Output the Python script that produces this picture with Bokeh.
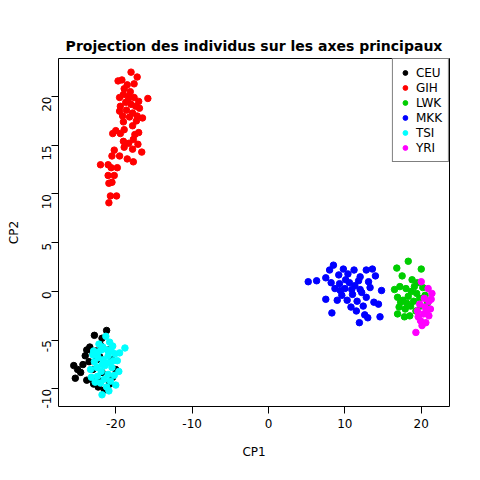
from math import pi
from bokeh.plotting import figure
from bokeh.models import Range1d, Legend, LegendItem, CustomJSTickFormatter
from bokeh.embed import file_html
from bokeh.resources import INLINE

groups = ["CEU", "GIH", "LWK", "MKK", "TSI", "YRI"]
colors = ["black", "red", "#00CD00", "blue", "cyan", "magenta"]

ceu_x = [-25.5, -25.0, -24.6, -25.3, -24.3, -23.8, -23.0, -22.8, -21.2, -23.5, -23.2, -22.9, -22.3, -21.5, -20.8,
         -20.0, -21.0, -22.0, -23.0, -22.5, -20.5, -23.8, -22.0, -21.8, -22.6, -21.8, -20.4, -24.0, -23.4, -22.1]
ceu_y = [-7.6, -8.0, -8.3, -8.9, -7.5, -6.0, -6.3, -4.5, -4.0, -7.2, -9.0, -9.5, -9.8, -10.1, -9.5,
         -8.0, -6.0, -5.5, -8.0, -7.0, -7.0, -9.1, -9.2, -8.3, -6.1, -4.8, -8.8, -6.6, -5.7, -6.7]

gih_x = [-18.0, -17.2, -19.2, -19.7, -18.5, -18.9, -18.1, -19.0, -18.3, -17.6, -19.5, -17.0, -18.7, -18.0, -17.4,
         -19.4, -15.8, -16.9, -18.6, -19.5, -17.8, -16.5, -18.2, -17.3, -19.0, -17.8, -18.9, -20.0, -17.0, -17.5,
         -19.4, -20.4, -17.7, -18.3, -19.0, -17.1, -18.9, -20.2, -16.6, -17.8, -19.5, -18.5, -20.5, -17.7, -21.0,
         -22.0, -19.8, -20.6, -20.2, -21.0, -20.5, -20.9, -19.9, -20.7, -20.9, -17.6, -18.4, -17.2, -19.1]
gih_y = [22.5, 22.0, 21.7, 21.6, 21.2, 20.8, 20.5, 20.2, 20.0, 19.9, 19.9, 19.5, 19.4, 19.2, 19.0,
         19.0, 19.8, 18.8, 18.6, 18.5, 18.3, 17.8, 17.9, 17.5, 17.4, 17.0, 16.6, 16.5, 16.3, 16.1,
         16.2, 16.2, 15.6, 15.2, 15.4, 15.1, 14.8, 14.5, 14.3, 14.6, 13.9, 13.6, 13.9, 13.3, 13.0,
         13.0, 12.7, 12.7, 11.9, 11.9, 11.2, 11.1, 9.8, 9.8, 9.1, 21.3, 19.6, 18.0, 18.0]

lwk_x = [16.8, 18.3, 20.0, 17.5, 18.8, 19.5, 16.5, 17.2, 18.0, 18.7, 19.4, 20.2, 16.9, 17.6, 18.3,
         19.0, 19.8, 20.5, 17.1, 17.9, 18.6, 19.3, 16.9, 17.8, 18.5, 20.8, 19.9, 17.3, 18.1, 19.1]
lwk_y = [2.4, 3.1, 2.3, 1.6, 1.2, 0.9, 0.2, 0.5, 0.3, 0.0, -0.2, 0.4, -0.6, -0.9, -0.5,
         -1.0, -0.7, -0.4, -1.6, -1.8, -1.5, -2.0, -2.3, -2.6, -2.5, -1.2, -1.5, -1.1, -1.2, 0.5]

mkk_x = [5.2, 6.3, 7.5, 8.0, 8.5, 9.2, 9.8, 10.4, 11.2, 12.0, 12.8, 13.6, 14.0, 7.5, 8.3,
         8.7, 9.3, 9.6, 10.0, 10.3, 10.6, 11.0, 11.3, 11.6, 12.0, 12.4, 12.8, 13.3, 13.8, 14.4,
         14.6, 12.6, 11.5, 11.9, 13.0, 10.8, 9.0, 10.1, 11.8, 14.8, 9.4, 10.9, 12.2, 8.2, 13.1]
mkk_y = [1.0, 1.1, 1.4, 2.2, 2.7, 1.7, 2.3, 1.8, 2.2, 1.5, 2.2, 2.3, 1.6, -0.8, -2.2,
         0.3, 0.8, -0.4, 0.3, -0.9, 0.9, -0.3, 0.6, -1.0, 0.2, -1.5, -0.6, 0.4, -1.1, -1.3,
         -2.6, -2.4, -2.0, -3.2, -2.7, -1.6, -0.9, 1.2, 1.1, 0.1, 0.1, 0.2, -0.1, 0.9, 1.0]

tsi_x = [-21.3, -20.8, -22.2, -18.8, -21.9, -20.6, -23.0, -21.0, -22.3, -20.1, -19.5, -21.6, -22.8, -20.9, -19.8,
         -21.4, -22.5, -23.3, -20.5, -21.9, -21.0, -22.4, -20.2, -21.5, -22.0, -20.7, -21.2, -20.0, -21.8, -20.9,
         -22.9, -21.7, -20.4, -22.7, -19.6, -23.2, -21.1, -20.3, -21.8, -22.3]
tsi_y = [-4.6, -5.2, -5.4, -5.8, -6.0, -6.1, -6.5, -6.6, -6.8, -6.4, -6.3, -7.0, -7.2, -7.3, -7.1,
         -7.6, -7.8, -8.0, -7.8, -8.2, -8.5, -8.7, -8.6, -9.0, -9.4, -9.2, -9.8, -9.6, -10.6, -10.2,
         -6.1, -5.7, -5.6, -9.3, -8.2, -8.8, -6.0, -7.1, -7.5, -6.2]

yri_x = [20.0, 20.9, 21.4, 20.4, 21.0, 19.8, 20.5, 21.2, 19.5, 20.3, 21.0, 19.9, 20.6, 20.1, 19.3, 21.3, 20.7, 19.6]
yri_y = [1.0, 0.3, -0.2, -0.7, -1.0, -1.3, -1.6, -1.8, -2.0, -2.3, -2.5, -3.0, -3.2, -3.5, -4.2, -0.8, -2.0, -2.6]

data = [(ceu_x, ceu_y), (gih_x, gih_y), (lwk_x, lwk_y), (mkk_x, mkk_y), (tsi_x, tsi_y), (yri_x, yri_y)]

p = figure(width=480, height=480, output_backend="svg", toolbar_location=None,
           title="Projection des individus sur les axes principaux",
           x_range=Range1d(-27.5, 23.7), y_range=Range1d(-11.8, 23.9),
           min_border_left=58, min_border_right=31, min_border_top=58, min_border_bottom=74,
           x_axis_label="CP1", y_axis_label="CP2")
p.title.align = "center"
p.title.text_font = "DejaVu Sans"
p.title.text_font_size = "14px"
p.title.text_font_style = "bold"
p.title.text_color = "black"
p.title.offset = 0
p.grid.visible = False
p.outline_line_color = "black"
p.xaxis.ticker = [-20, -10, 0, 10, 20]
p.yaxis.ticker = [-10, -5, 0, 5, 10, 15, 20]
p.yaxis.major_label_orientation = pi / 2
fmt = CustomJSTickFormatter(code="return String(tick);")
for ax in p.xaxis + p.yaxis:
    ax.formatter = fmt
    ax.axis_line_color = None
    ax.minor_tick_line_color = None
    ax.major_tick_out = 7
    ax.major_tick_in = 0
    ax.major_label_text_font = "DejaVu Sans"
    ax.major_label_text_font_size = "12px"
    ax.major_label_text_color = "black"
    ax.axis_label_text_font = "DejaVu Sans"
    ax.axis_label_text_font_size = "12px"
    ax.axis_label_text_font_style = "normal"
    ax.axis_label_text_color = "black"
    ax.axis_label_standoff = 14

items = []
for g, c, (xs, ys) in zip(groups, colors, data):
    r = p.scatter(xs, ys, size=6.5, color=c)
    items.append(LegendItem(label=g, renderers=[r]))

leg = Legend(items=items, location="top_right", margin=0, padding=6, spacing=0,
             glyph_width=12, glyph_height=15, label_height=15,
             label_text_font="DejaVu Sans", label_text_font_size="12px",
             label_text_color="black",
             border_line_color="black", background_fill_alpha=1)
p.add_layout(leg)

open("out.html", "w").write(file_html(p, INLINE))
